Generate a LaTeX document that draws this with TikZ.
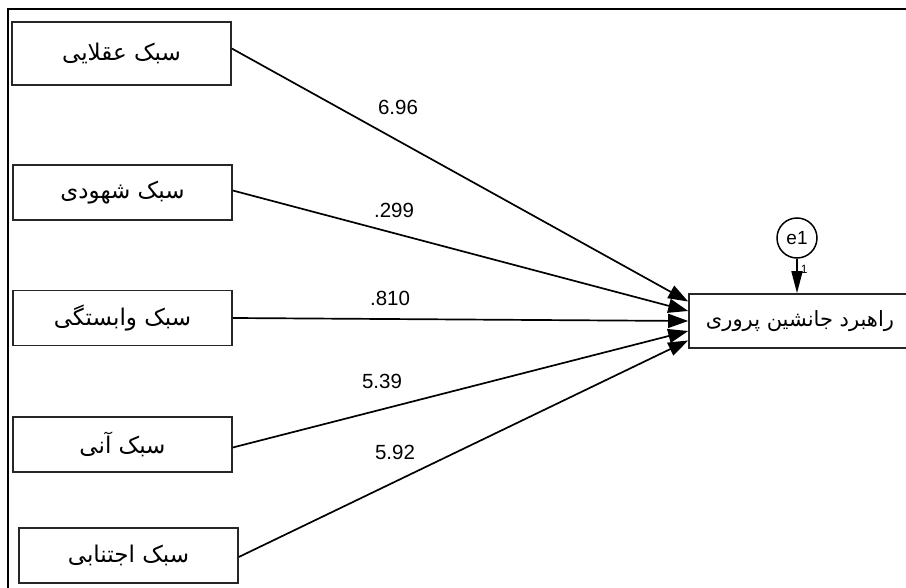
\documentclass[tikz,border=0pt]{standalone}
\usepackage{fontspec}
\setmainfont{Liberation Sans}
\newfontfamily\fa[Script=Arabic]{DejaVu Sans}
\TeXXeTstate=1
\usetikzlibrary{arrows.meta,calc}

\tikzset{
  varbox/.style={draw=black!85, line width=1.6pt, rectangle, inner sep=0pt,
                 minimum width=219pt, minimum height=55pt,
                 font=\fa\fontsize{23}{26}\selectfont},
  errcirc/.style={draw, circle, line width=1.5pt, inner sep=0pt,
                  minimum size=40pt, font=\fontsize{19}{22}\selectfont},
  path/.style={line width=1.7pt, -{Triangle[length=20pt,width=14pt]}},
  errpath/.style={line width=1.7pt, -{Triangle[length=22pt,width=11pt]}},
  coef/.style={font=\fontsize{20.5}{24}\selectfont, inner sep=0pt},
}

\begin{document}
\begin{tikzpicture}[x=1pt, y=-1pt]
  \useasboundingbox (0,0) rectangle (906,588);
  \clip (0,0) rectangle (906,588);

  % outer frame (top and left edges)
  \draw[line width=2pt] (8,600) -- (8,9) -- (920,9);

  % exogenous variables
  \node[varbox, minimum height=63pt] (a1) at (121.5,53.5) {\beginR سبک عقلایی\endR};
  \node[varbox] (a2) at (122.5,192.5) {\beginR سبک شهودی\endR};
  \node[varbox] (a3) at (122.5,318) {\beginR سبک وابستگی\endR};
  \node[varbox] (a4) at (122.5,444.5) {\beginR سبک آنی\endR};
  \node[varbox] (a5) at (128.5,555.5) {\beginR سبک اجتنابی\endR};

  % endogenous variable and its error term
  \node[varbox, minimum width=222pt, minimum height=54pt,
        font=\fa\fontsize{21}{24}\selectfont] (t) at (800,321) {\beginR راهبرد جانشین پروری\endR};
  \node[errcirc] (e1) at (797,238) {e1};

  % arrow ends spread along the left side of the target box
  \coordinate (p1) at ($(t.north west)!0.15!(t.south west)$);
  \coordinate (p2) at ($(t.north west)!0.32!(t.south west)$);
  \coordinate (p3) at ($(t.north west)!0.50!(t.south west)$);
  \coordinate (p4) at ($(t.north west)!0.68!(t.south west)$);
  \coordinate (p5) at ($(t.north west)!0.85!(t.south west)$);

  \draw[path] ([yshift=5pt]a1.east) -- (p1);
  \draw[path] ([yshift=2pt]a2.east) -- (p2);
  \draw[path] (a3.east) -- (p3);
  \draw[path] ([yshift=-3pt]a4.east) -- (p4);
  \draw[path] ([yshift=-1.5pt]a5.east) -- (p5);

  \draw[errpath] (e1.south) -- (e1.south |- t.north)
    node[pos=0.3, right=3pt, font=\fontsize{12}{13}\selectfont, inner sep=0pt] {1};

  % path coefficients
  \node[coef] (c1) at (398,107) {6.96};
  \node[coef] (c2) at (394,210) {.299};
  \node[coef] (c3) at (390,298) {.810};
  \node[coef] (c4) at (382,381) {5.39};
  \node[coef] (c5) at (395,452) {5.92};
\end{tikzpicture}
\end{document}
